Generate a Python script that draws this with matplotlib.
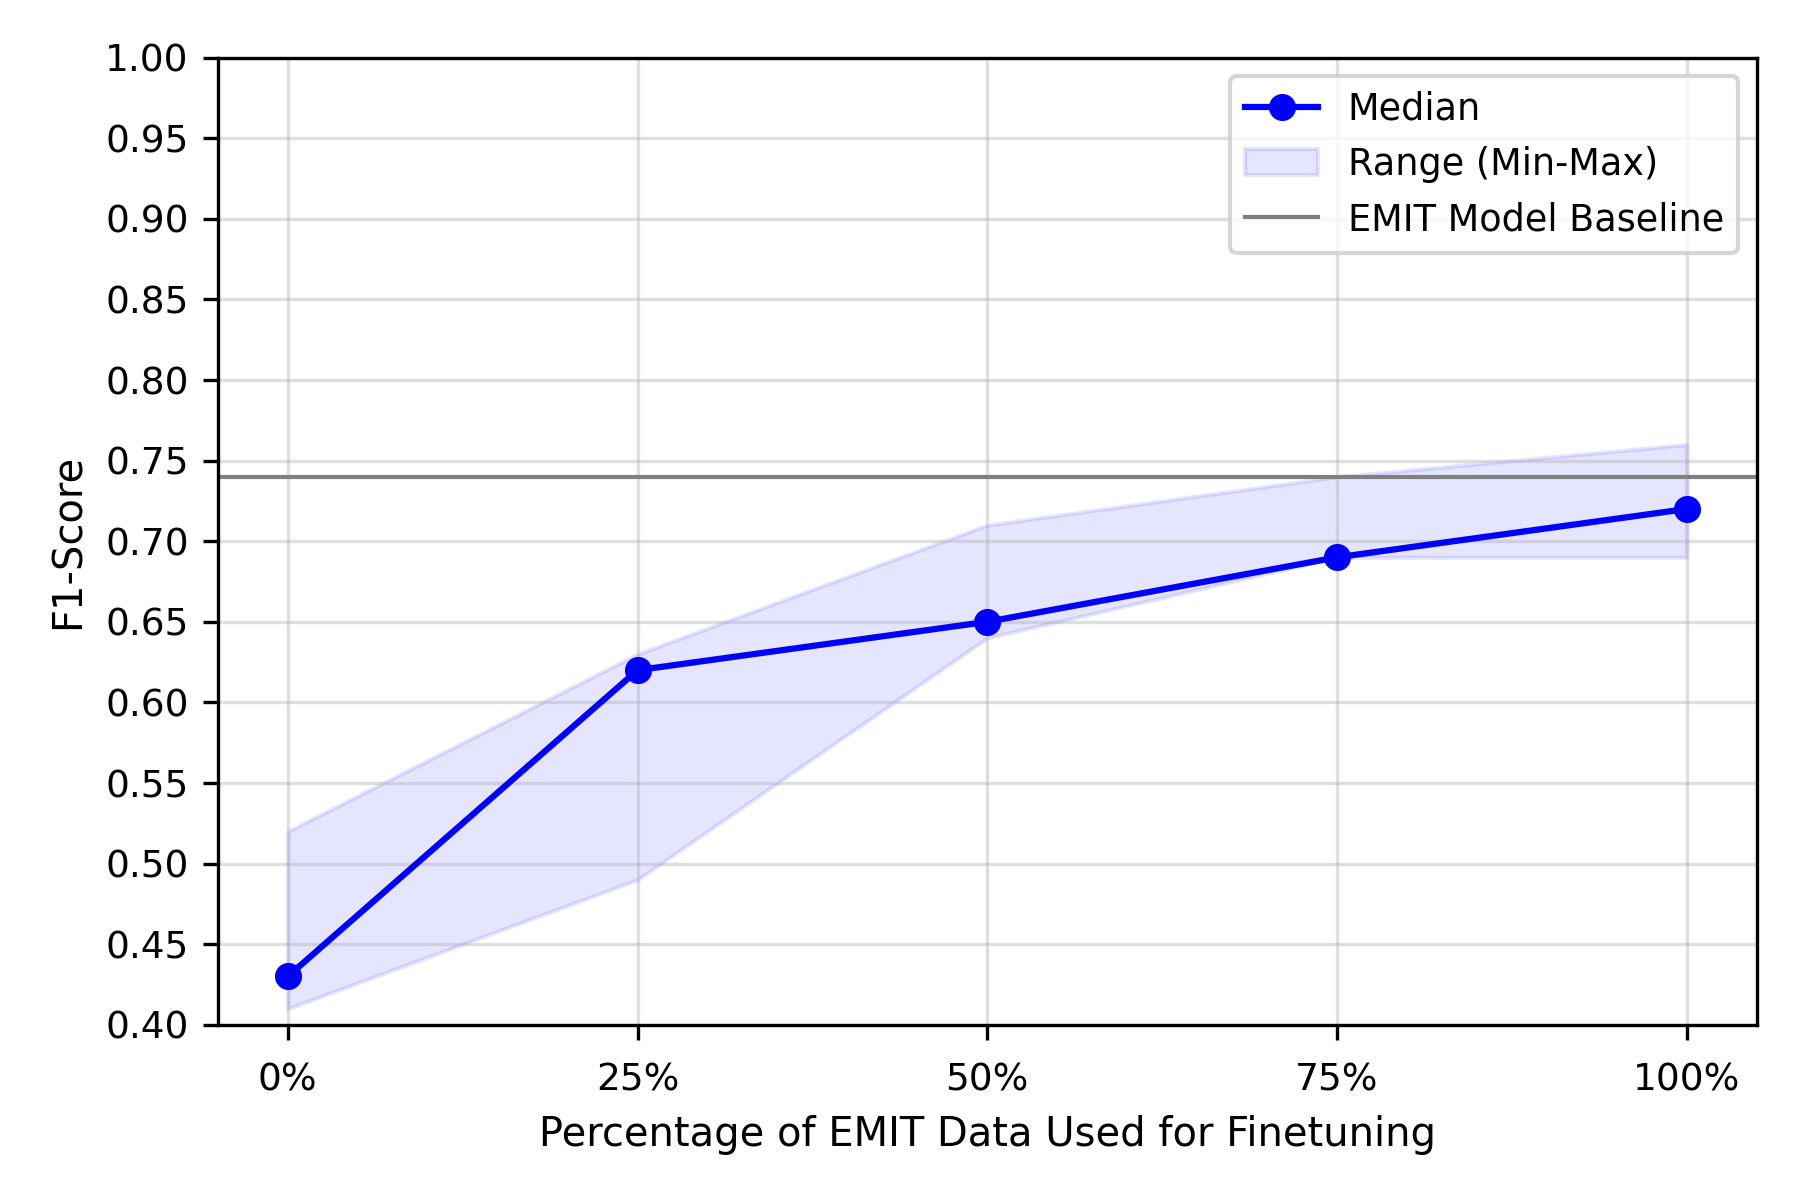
import numpy as np
import matplotlib.pyplot as plt

labels = ['0%', '25%', '50%', '75%', '100%']
median = [0.43, 0.62, 0.65, 0.69, 0.72]
f1_min = [0.41, 0.49, 0.64, 0.69, 0.69]
f1_max = [0.52, 0.63, 0.71, 0.74, 0.76]
baseline = 0.74

x = np.arange(len(labels))

fig, ax = plt.subplots(figsize=(6, 4), dpi=300)
ax.plot(x, median, 'o-', color='blue', label='Median', zorder=3, markersize=5.5)
ax.fill_between(x, f1_min, f1_max, color='blue', alpha=0.1, label='Range (Min-Max)')
ax.axhline(baseline, color='gray', linewidth=1, label='EMIT Model Baseline')
ax.set_xticks(x)
ax.set_xticklabels(labels)
ax.set_ylim(0.4, 1.0)
ax.set_yticks(np.arange(0.4, 1.001, 0.05))
ax.tick_params(axis='both', labelsize=9)
ax.tick_params(axis='x', pad=5.5)
ax.grid(True, alpha=0.4)
ax.set_xlabel('Percentage of EMIT Data Used for Finetuning', fontsize=9.6)
ax.set_ylabel('F1-Score', fontsize=9.6)
ax.legend(loc='upper right', fontsize=8.8)
fig.subplots_adjust(left=0.121, right=0.976, top=0.952, bottom=0.146)
plt.savefig('out.png')
